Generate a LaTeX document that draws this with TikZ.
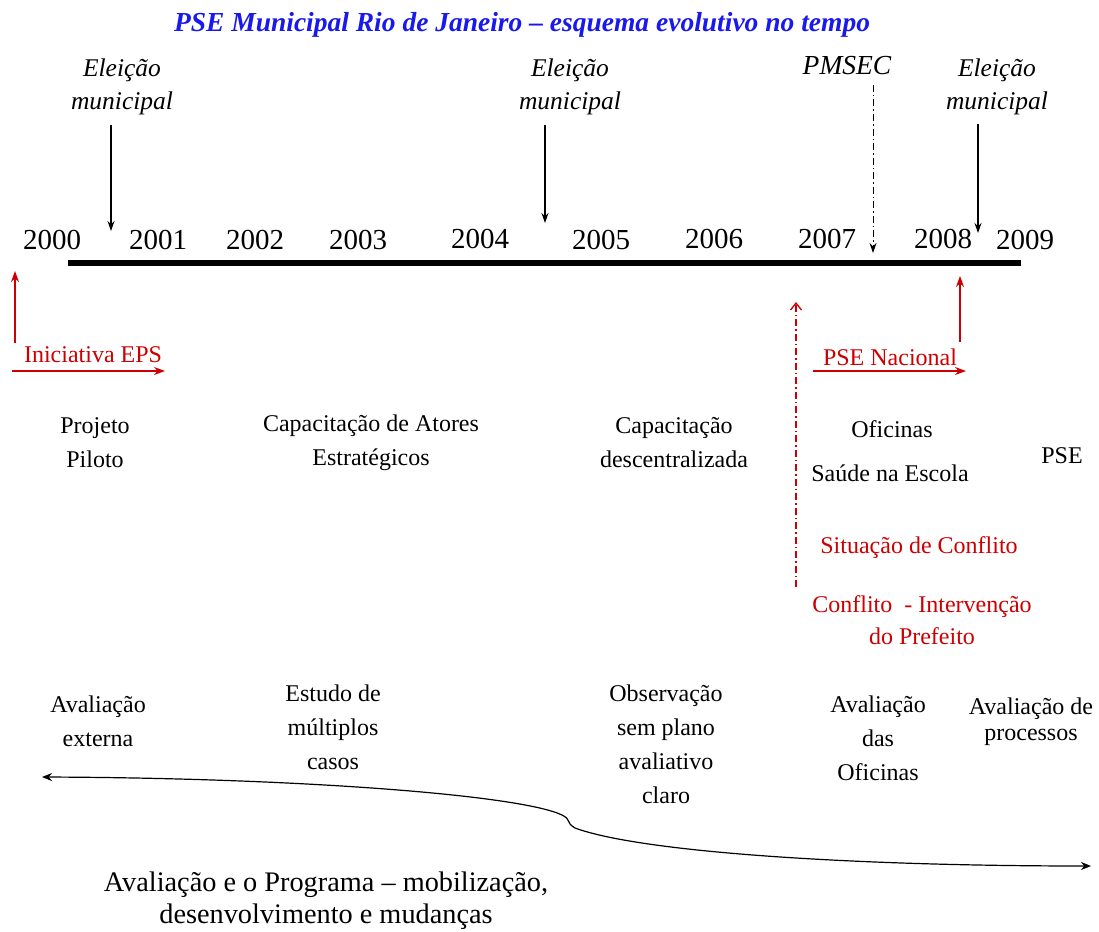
\documentclass[tikz,border=0pt]{standalone}
\usepackage{fontspec}
\setmainfont{Liberation Serif}
\usetikzlibrary{arrows.meta}
\definecolor{pseblue}{RGB}{25,25,235}
\definecolor{psered}{RGB}{204,0,0}
\begin{document}
\begin{tikzpicture}[x=1pt,y=-1pt,
  txt/.style={inner sep=0pt,align=center,font=\fontsize{24}{34}\selectfont},
  txtred/.style={txt,text=psered},
  yr/.style={inner sep=0pt,font=\fontsize{29}{30}\selectfont},
  elec/.style={inner sep=0pt,align=center,font=\fontsize{25.5}{33}\selectfont\itshape},
  blk/.style={line width=1.2pt,-{Stealth[length=10pt,width=7pt]}},
  redarr/.style={psered,line width=1.3pt,-{Stealth[length=11pt,width=8pt]}},
  dashdot/.style={dash pattern=on 7pt off 3pt on 1.5pt off 3pt}]
\useasboundingbox (0,0) rectangle (1099,931);

% title
\node[inner sep=0pt,text=pseblue,font=\fontsize{27.5}{30}\selectfont\bfseries\itshape] (title) at (522,25) {PSE Municipal Rio de Janeiro – esquema evolutivo no tempo};

% election markers and PMSEC
\node[elec] (el1) at (122,87) {Eleição\\municipal};
\node[elec] (el2) at (570,87) {Eleição\\municipal};
\node[elec] (el3) at (997,87) {Eleição\\municipal};
\node[inner sep=0pt,font=\fontsize{27.5}{30}\selectfont\itshape] (pmsec) at (847,66) {PMSEC};

\coordinate (a1s) at (111,125); \coordinate (a1e) at (111,231);
\coordinate (a2s) at (545,125); \coordinate (a2e) at (545,223);
\coordinate (a3s) at (978,124); \coordinate (a3e) at (978,233);
\coordinate (pms) at (873,85);  \coordinate (pme) at (873,253);
\draw[blk] (a1s) -- (a1e);
\draw[blk] (a2s) -- (a2e);
\draw[blk] (a3s) -- (a3e);
\draw[blk,dashdot,line width=1pt] (pms) -- (pme);

% years
\node[yr] (y2000) at (52,240) {2000};
\node[yr] (y2001) at (158,240) {2001};
\node[yr] (y2002) at (255,240) {2002};
\node[yr] (y2003) at (358,240) {2003};
\node[yr] (y2004) at (480,239) {2004};
\node[yr] (y2005) at (601,240) {2005};
\node[yr] (y2006) at (714,239) {2006};
\node[yr] (y2007) at (827,239) {2007};
\node[yr] (y2008) at (943,239) {2008};
\node[yr] (y2009) at (1025,240) {2009};

% timeline
\coordinate (tl) at (68,263); \coordinate (tr) at (1021,263);
\draw[line width=6pt] (tl) -- (tr);

% red markers
\node[txtred] (eps) at (93,355) {Iniciativa EPS};
\coordinate (e1s) at (15,343); \coordinate (e1e) at (15,271);
\coordinate (e2s) at (12,371); \coordinate (e2e) at (165,371);
\draw[redarr] (e1s) -- (e1e);
\draw[redarr] (e2s) -- (e2e);

\node[txtred] (psen) at (890,357) {PSE Nacional};
\coordinate (n1s) at (813,371); \coordinate (n1e) at (966,371);
\coordinate (n2s) at (960,342); \coordinate (n2e) at (960,276);
\draw[redarr] (n1s) -- (n1e);
\draw[redarr] (n2s) -- (n2e);

\coordinate (ds) at (796,587); \coordinate (de) at (796,302);
\draw[psered,line width=1.3pt,dashdot,-{Straight Barb[length=7pt,width=11pt]}] (ds) -- (de);

% activities
\node[txt] (piloto) at (95,443) {Projeto\\Piloto};
\node[txt] (atores) at (371,443) {Capacitação de Atores\\Estratégicos};
\node[txt] (descent) at (674,443) {Capacitação\\descentralizada};
\node[txt] (ofic) at (892,429) {Oficinas};
\node[txt] (saude) at (890,473) {Saúde na Escola};
\node[txt] (pse) at (1062,456) {PSE};

\node[txtred] (sit) at (919,548) {Situação de Conflito};
\node[txtred,font=\fontsize{24}{32}\selectfont] (interv) at (922,620) {Conflito\ \ - Intervenção\\do Prefeito};

% evaluations
\node[txt] (ext) at (98,721) {Avaliação\\externa};
\node[txt] (mult) at (333,727) {Estudo de\\múltiplos\\casos};
\node[txt] (obs) at (666,744) {Observação\\sem plano\\avaliativo\\claro};
\node[txt] (aof) at (878,738) {Avaliação\\das\\Oficinas};
\node[txt,font=\fontsize{24}{26}\selectfont] (proc) at (1031,722) {Avaliação de\\processos};

% evolution curve
\coordinate (cl) at (42,777);
\coordinate (ck1) at (562,815);
\coordinate (ck2) at (575,828);
\coordinate (cr) at (1091,866);
\draw[line width=1.2pt,{Stealth[length=10pt,width=8pt]}-{Stealth[length=10pt,width=8pt]}]
  (cl) .. controls (300,778) and (520,795) .. (ck1)
  .. controls (572,820) and (565,822) .. (ck2)
  .. controls (640,852) and (850,866) .. (cr);

\node[inner sep=0pt,align=center,font=\fontsize{28.3}{32}\selectfont] (cap) at (326,901) {Avaliação e o Programa – mobilização,\\desenvolvimento e mudanças};
\end{tikzpicture}
\end{document}
